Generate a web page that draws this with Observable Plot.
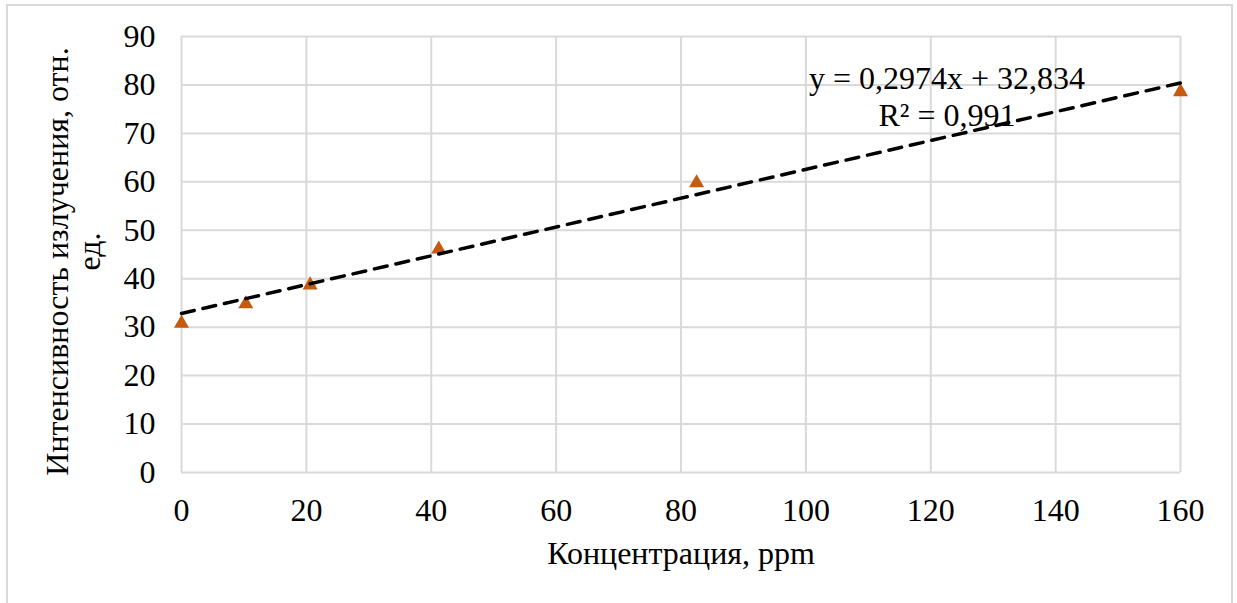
<!DOCTYPE html>
<html>
<head>
<meta charset="utf-8">
<script src="https://cdn.jsdelivr.net/npm/d3@7"></script>
<script src="https://cdn.jsdelivr.net/npm/@observablehq/plot@0.6"></script>
<style>
  body { margin: 0; background: #fff; }
  #frame { position: absolute; left: 6px; top: 4px; width: 1227px; height: 640px; border: 2px solid #d9d9d9; box-sizing: border-box; }
  #chart { position: absolute; left: 0; top: 0; }
  #chart svg, #chart svg text { font-family: "Liberation Serif", "DejaVu Serif", "Times New Roman", serif !important; }
</style>
</head>
<body>
<div id="frame"></div>
<div id="chart"></div>
<script>
// Data
const concentration = [0, 10.3, 20.6, 41.2, 82.5, 160];
const intensity = [31.2, 35.2, 39.1, 46.5, 60.2, 79.0];
const xTicks = [0, 20, 40, 60, 80, 100, 120, 140, 160];
const yTicks = [0, 10, 20, 30, 40, 50, 60, 70, 80, 90];
const trendSlope = 0.2974;
const trendIntercept = 32.834;
const trendRange = [0, 160];
const equationLines = ["y = 0,2974x + 32,834", "R² = 0,991"];
const equationAnchor = [{x: 122.6, y: 84.6}];
const xLabel = "Концентрация, ppm";
const yLabelLines = ["Интенсивность излучения, отн.", "ед."];

const points = concentration.map((c, i) => ({x: c, y: intensity[i]}));
const trend = trendRange.map(x => ({x, y: trendSlope * x + trendIntercept}));

const grid = "#d9d9d9";
const orange = "#c55a11";
const serif = "Liberation Serif";
const fs = 32;

const chart = Plot.plot({
  width: 1237,
  height: 603,
  marginLeft: 181,
  marginRight: 57,
  marginTop: 36,
  marginBottom: 131,
  style: {fontFamily: serif, fontSize: fs + "px", color: "#000", background: "transparent"},
  x: {domain: [0, 160], ticks: xTicks},
  y: {domain: [0, 90], ticks: yTicks},
  marks: [
    Plot.gridX(xTicks, {stroke: grid, strokeOpacity: 1, strokeWidth: 2}),
    Plot.gridY(yTicks, {stroke: grid, strokeOpacity: 1, strokeWidth: 2}),
    Plot.axisX(xTicks, {tickSize: 0, tickPadding: 26, label: null, fontSize: fs, fontFamily: serif, tickFormat: d => String(d)}),
    Plot.axisY(yTicks, {tickSize: 0, tickPadding: 26, label: null, fontSize: fs, fontFamily: serif, tickFormat: d => String(d)}),
    Plot.dot(points, {x: "x", y: "y", symbol: "triangle", r: 5.6, fill: orange, stroke: "none", dy: 2}),
    Plot.line(trend, {x: "x", y: "y", stroke: "#000", strokeWidth: 3.5, strokeDasharray: "13,9"}),
    Plot.text(equationAnchor, {x: "x", y: "y", text: () => equationLines.join("\n"), textAnchor: "middle", lineAnchor: "top", lineHeight: 1.156, fontSize: fs, fontFamily: serif, fill: "#000"}),
    Plot.text([xLabel], {frameAnchor: "bottom", text: d => d, dy: 81, lineAnchor: "middle", fontSize: fs, fontFamily: serif, fill: "#000"}),
    Plot.text([yLabelLines[0]], {frameAnchor: "left", text: d => d, dx: -124, dy: 7, rotate: -90, textAnchor: "middle", lineAnchor: "middle", fontSize: fs, fontFamily: serif, fill: "#000"}),
    Plot.text([yLabelLines[1]], {frameAnchor: "left", text: d => d, dx: -92, dy: -3, rotate: -90, textAnchor: "middle", lineAnchor: "middle", fontSize: fs, fontFamily: serif, fill: "#000"})
  ]
});
document.getElementById("chart").appendChild(chart);
</script>
</body>
</html>
